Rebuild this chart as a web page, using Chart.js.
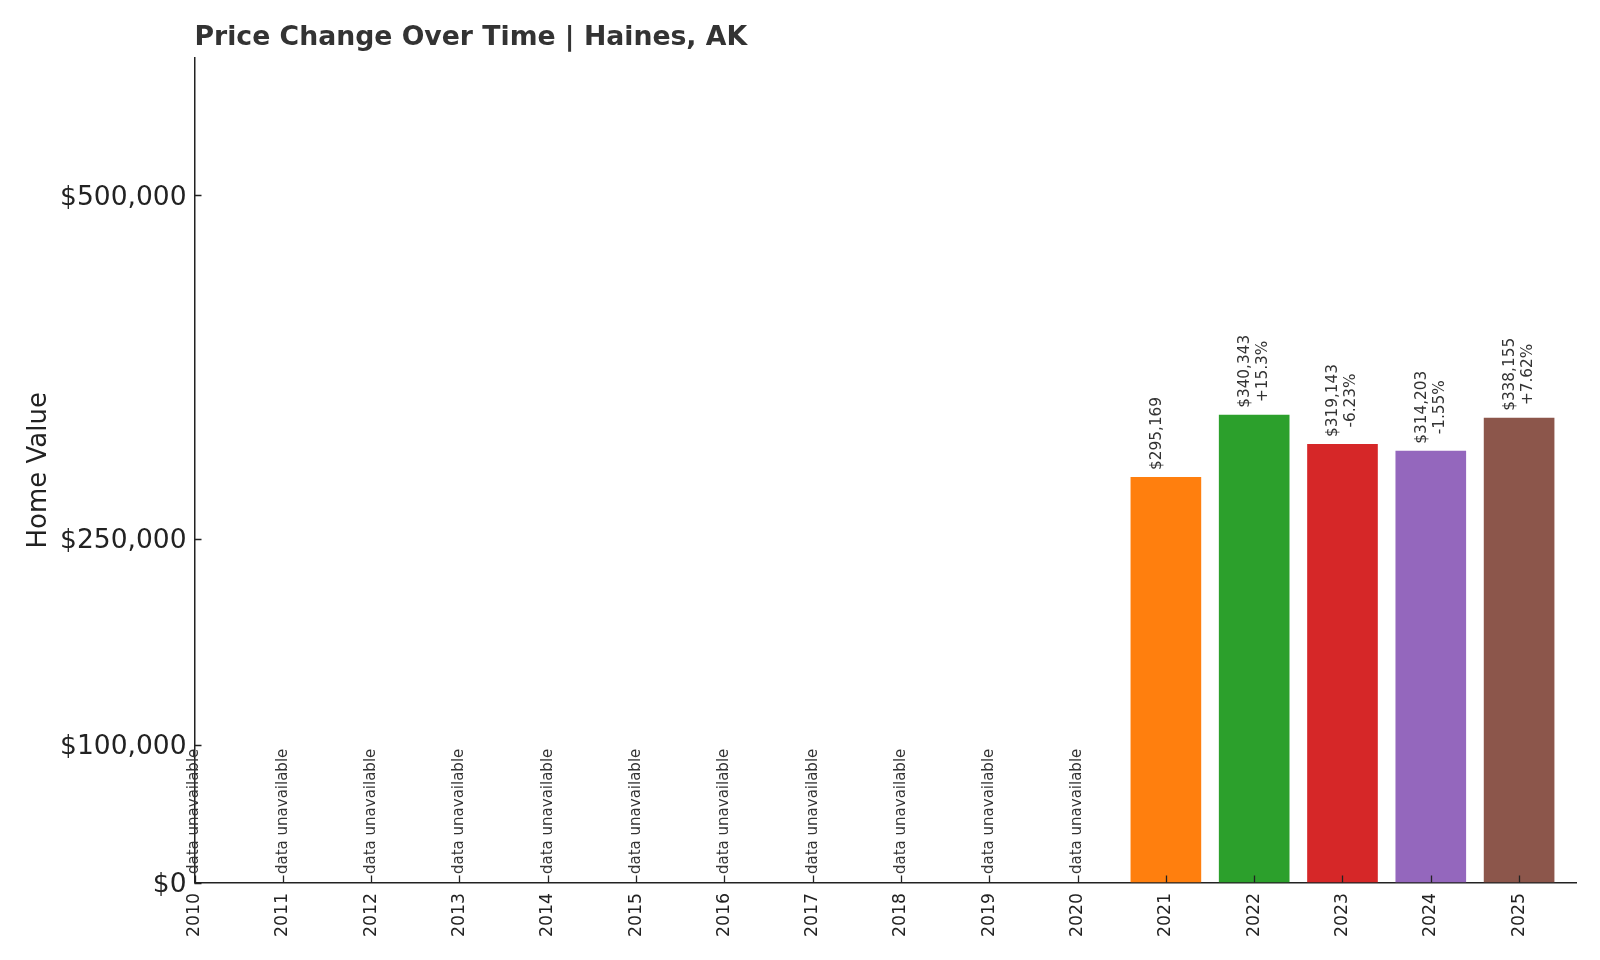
<!DOCTYPE html>
<html>
<head>
<meta charset="utf-8">
<script src="https://cdn.jsdelivr.net/npm/chart.js@4.4.1/dist/chart.umd.min.js"></script>
<style>
  html, body { margin: 0; padding: 0; background: #ffffff; }
  #wrap { width: 1600px; height: 960px; }
</style>
</head>
<body>
<div id="wrap"><canvas id="c" width="1600" height="960"></canvas></div>
<script>
// ---- data ----
const years = [2010, 2011, 2012, 2013, 2014, 2015, 2016, 2017, 2018, 2019, 2020, 2021, 2022, 2023, 2024, 2025];
const homeValues = [null, null, null, null, null, null, null, null, null, null, null, 295169, 340343, 319143, 314203, 338155];
const pctChangeLabels = [null, null, null, null, null, null, null, null, null, null, null, '', '+15.3%', '-6.23%', '-1.55%', '+7.62%'];
const yTickValues = [0, 100000, 250000, 500000];
const titleText = 'Price Change Over Time | Haines, AK';
const yAxisLabel = 'Home Value';
const missingText = 'data unavailable';

// ---- styles ----
const palette = ['#1f77b4', '#ff7f0e', '#2ca02c', '#d62728', '#9467bd', '#8c564b', '#e377c2', '#7f7f7f', '#bcbd22', '#17becf'];
const FONT = '"DejaVu Sans", "Liberation Sans", sans-serif';
const AXIS_COLOR = '#222222';

function fmtMoney(v) { return '$' + Number(v).toLocaleString('en-US'); }

const annotPlugin = {
  id: 'annot',
  afterDraw(chart) {
    const ctx = chart.ctx;
    const xs = chart.scales.x, ys = chart.scales.y;
    const area = chart.chartArea;
    const meta = chart.getDatasetMeta(0);
    ctx.save();
    // inward tick marks
    ctx.strokeStyle = AXIS_COLOR;
    ctx.lineWidth = 1.3;
    ctx.beginPath();
    years.forEach(yr => {
      const px = Math.round(xs.getPixelForValue(yr)) + 0.5;
      ctx.moveTo(px, area.bottom);
      ctx.lineTo(px, area.bottom - 7);
    });
    yTickValues.forEach(v => {
      const py = Math.round(ys.getPixelForValue(v)) + 0.5;
      ctx.moveTo(area.left, py);
      ctx.lineTo(area.left + 7, py);
    });
    ctx.stroke();

    // labels
    ctx.fillStyle = '#333333';
    const y0 = ys.getPixelForValue(0);
    years.forEach((yr, i) => {
      const px = xs.getPixelForValue(yr);
      if (homeValues[i] === null) {
        ctx.save();
        ctx.font = '15px ' + FONT;
        ctx.translate(px, y0 - 8.5);
        ctx.rotate(-Math.PI / 2);
        ctx.textAlign = 'left';
        ctx.textBaseline = 'middle';
        ctx.fillText(missingText, 0, 0);
        ctx.restore();
      } else {
        const el = meta.data[i];
        ctx.save();
        ctx.font = '15.3px ' + FONT;
        const lines = [fmtMoney(homeValues[i]), pctChangeLabels[i] || ''];
        const w = Math.max(...lines.map(l => ctx.measureText(l).width));
        const lh = 18;
        ctx.translate(el.x, el.y - 7);
        ctx.rotate(-Math.PI / 2);
        ctx.textAlign = 'center';
        ctx.textBaseline = 'middle';
        lines.forEach((l, k) => {
          ctx.fillText(l, w / 2, (k - (lines.length - 1) / 2) * lh);
        });
        ctx.restore();
      }
    });
    ctx.restore();
  }
};

new Chart(document.getElementById('c'), {
  type: 'bar',
  data: {
    datasets: [{
      data: years.map((yr, i) => ({ x: yr, y: homeValues[i] })),
      backgroundColor: years.map((yr, i) => palette[i % palette.length]),
      borderWidth: 0,
      categoryPercentage: 1.0,
      barPercentage: 0.8
    }]
  },
  options: {
    responsive: false,
    animation: false,
    layout: { padding: { top: 0, left: 0, right: 23.5, bottom: 0 } },
    plugins: {
      legend: { display: false },
      tooltip: { enabled: false },
      title: {
        display: true,
        text: titleText,
        align: 'start',
        fullSize: false,
        color: '#333333',
        font: { family: FONT, size: 26.7, weight: 'bold', lineHeight: 1.2 },
        padding: { top: 22, bottom: 4 }
      }
    },
    scales: {
      x: {
        type: 'linear',
        offset: false,
        min: 2010,
        max: 2025.65,
        z: 1,
        grid: { display: false, drawTicks: false },
        border: { display: true, color: AXIS_COLOR, width: 1.5 },
        afterBuildTicks: s => { s.ticks = years.map(v => ({ value: v })); },
        afterFit: s => { s.height = 77.5; },
        ticks: {
          autoSkip: false,
          maxRotation: 90,
          minRotation: 90,
          padding: 10.5,
          color: AXIS_COLOR,
          font: { family: FONT, size: 17.3 },
          callback: v => String(v)
        }
      },
      y: {
        type: 'linear',
        min: 0,
        max: 600000,
        z: 1,
        grid: { display: false, drawTicks: false },
        border: { display: true, color: AXIS_COLOR, width: 1.5 },
        afterBuildTicks: s => { s.ticks = yTickValues.map(v => ({ value: v })); },
        afterFit: s => { s.width = 194.5; },
        ticks: {
          padding: 8,
          labelOffset: 2.5,
          color: AXIS_COLOR,
          font: { family: FONT, size: 26.5 },
          callback: v => fmtMoney(v)
        },
        title: {
          display: true,
          text: yAxisLabel,
          color: AXIS_COLOR,
          font: { family: FONT, size: 26, lineHeight: 1.2 },
          padding: { top: 23.4, bottom: 0 }
        }
      }
    }
  },
  plugins: [annotPlugin]
});
</script>
</body>
</html>
